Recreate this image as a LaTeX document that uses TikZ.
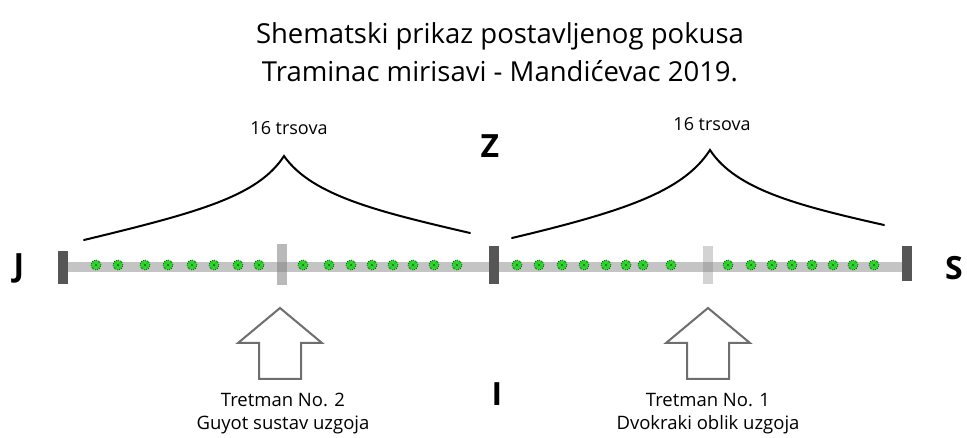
\documentclass[tikz,border=0pt]{standalone}
\usepackage{fontspec}
\setmainfont{Open Sans}
\definecolor{rail}{HTML}{C4C4C4}
\definecolor{stup}{HTML}{565656}
\definecolor{trsgreen}{HTML}{33D633}
\definecolor{strelica}{HTML}{6E6E6E}
\tikzset{
  stupac/.style={rectangle,inner sep=0pt,minimum width=10pt,fill=stup},
  mstupac/.style={rectangle,inner sep=0pt,minimum width=10pt,fill=gray},
  trs/.style={circle,inner sep=0pt,minimum size=10pt,fill=trsgreen,draw=green!40!black,
    line width=0.7pt,dash pattern=on 1pt off 1.2pt,
    path picture={\draw[green!35!black,line width=0.5pt,dash pattern=on 0.8pt off 1.1pt]
      (path picture bounding box.south west) -- (path picture bounding box.north east)
      (path picture bounding box.north west) -- (path picture bounding box.south east);}},
  strana/.style={font=\fontsize{32}{32}\selectfont\bfseries},
  opis/.style={font=\fontsize{18.5}{23}\selectfont,align=center},
  zagrada/.style={line width=2pt,line cap=round}
}
\begin{document}
\begin{tikzpicture}[x=1pt,y=-1pt]
\useasboundingbox (0,0) rectangle (967,438);
% naslov
\node[font=\fontsize{27.5}{38}\selectfont,align=center] (naslov) at (500,52)
  {Shematski prikaz postavljenog pokusa\\Traminac mirisavi - Mandićevac 2019.};
% strane svijeta
\node[strana] (J) at (19,268) {J};
\node[strana] (S) at (954,268) {S};
\node[strana] (Z) at (490,146) {Z};
\node[strana] (I) at (497,394) {I};
% red
\draw[rail,line width=10pt] (62,267) -- (909,267);
\node[stupac,minimum height=33pt] (pJ) at (63,268) {};
\node[stupac,minimum height=38pt] (pZ) at (494,265) {};
\node[stupac,minimum height=35pt] (pS) at (907,264) {};
\node[mstupac,opacity=0.55,minimum height=41pt] (m2) at (282,265) {};
\node[mstupac,opacity=0.35,minimum height=38pt] (m1) at (708,265) {};
% trsovi
\foreach \x [count=\i] in {96,118,145,168,192,214,238,259,
                           303,329,351,372,393,413,434,457,
                           517,539,562,584,606,626,643,671,
                           728,751,772,792,812,833,853,874}
  \node[trs] (t\i) at (\x,265) {};
% zagrade
\coordinate (v2) at (284,156);
\coordinate (v1) at (710,150);
\draw[zagrada] (84,240) .. controls (200,212) and (258,196) .. (v2)
  .. controls (312,196) and (380,212) .. (470,233);
\draw[zagrada] (512,238) .. controls (630,210) and (684,190) .. (v1)
  .. controls (736,190) and (800,206) .. (884,225);
\node[font=\fontsize{18}{18}\selectfont] (b2) at (289,128) {16 trsova};
\node[font=\fontsize{18}{18}\selectfont] (b1) at (712,124) {16 trsova};
% tretmani
\foreach \cx in {280,708}
  \draw[strelica,line width=2pt,line join=miter]
    (\cx,308) -- ++(42,35) -- ++(-21,0) -- ++(0,36) -- ++(-42,0)
    -- ++(0,-36) -- ++(-21,0) -- cycle;
\node[opis] (tr2) at (283,414) {Tretman No. 2\\Guyot sustav uzgoja};
\node[opis] (tr1) at (708,414) {Tretman No. 1\\Dvokraki oblik uzgoja};
\end{tikzpicture}
\end{document}
